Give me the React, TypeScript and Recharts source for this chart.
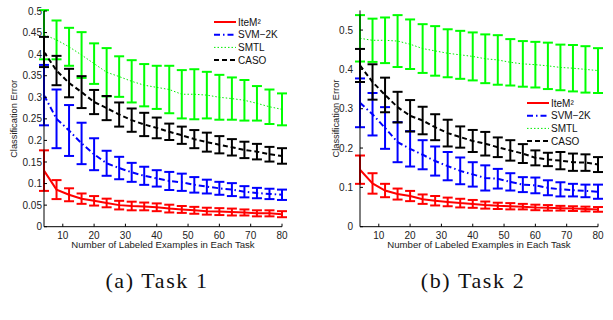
import React from 'react';
import { ComposedChart, Line, XAxis, YAxis, ErrorBar, Legend } from 'recharts';

// labeled examples per task
const xs = [4, 8, 12, 16, 20, 24, 28, 32, 36, 40, 44, 48, 52, 56, 60, 64, 68, 72, 76, 80];
const xTicks = [10, 20, 30, 40, 50, 60, 70, 80];
const yTicksTask1 = [0, 0.05, 0.1, 0.15, 0.2, 0.25, 0.3, 0.35, 0.4, 0.45, 0.5];
const yTicksTask2 = [0, 0.1, 0.2, 0.3, 0.4, 0.5];
const seriesNames = ['IteM²', 'SVM−2K', 'SMTL', 'CASO'];
const captions = ['(a) Task 1', '(b) Task 2'];

// Task 1
const item1 = [0.130, 0.086, 0.074, 0.065, 0.060, 0.055, 0.050, 0.048, 0.047, 0.045, 0.042, 0.040, 0.038, 0.036, 0.035, 0.034, 0.033, 0.031, 0.031, 0.029];
const item1Err = [0.047, 0.022, 0.015, 0.012, 0.011, 0.010, 0.010, 0.010, 0.009, 0.009, 0.009, 0.008, 0.008, 0.008, 0.008, 0.008, 0.007, 0.007, 0.007, 0.007];
const svm1 = [0.305, 0.250, 0.223, 0.193, 0.168, 0.147, 0.136, 0.126, 0.118, 0.112, 0.106, 0.103, 0.097, 0.093, 0.089, 0.086, 0.081, 0.078, 0.076, 0.074];
const svm1Err = [0.070, 0.068, 0.059, 0.048, 0.037, 0.029, 0.026, 0.022, 0.021, 0.019, 0.021, 0.020, 0.018, 0.016, 0.015, 0.015, 0.013, 0.012, 0.012, 0.012];
const smtl1 = [0.445, 0.433, 0.417, 0.398, 0.378, 0.358, 0.348, 0.337, 0.328, 0.323, 0.318, 0.307, 0.307, 0.305, 0.300, 0.297, 0.293, 0.286, 0.278, 0.272];
const smtl1Err = [0.057, 0.045, 0.044, 0.053, 0.047, 0.056, 0.047, 0.049, 0.049, 0.050, 0.055, 0.056, 0.058, 0.054, 0.052, 0.049, 0.047, 0.040, 0.040, 0.037];
const caso1 = [0.405, 0.362, 0.333, 0.312, 0.289, 0.275, 0.260, 0.247, 0.237, 0.229, 0.220, 0.212, 0.203, 0.196, 0.190, 0.184, 0.178, 0.174, 0.168, 0.164];
const caso1Err = [0.035, 0.034, 0.033, 0.037, 0.028, 0.028, 0.028, 0.027, 0.027, 0.024, 0.019, 0.020, 0.021, 0.022, 0.020, 0.019, 0.019, 0.018, 0.017, 0.018];

// Task 2
const item2 = [0.145, 0.110, 0.092, 0.083, 0.078, 0.070, 0.066, 0.063, 0.060, 0.058, 0.055, 0.053, 0.052, 0.051, 0.049, 0.048, 0.047, 0.046, 0.045, 0.044];
const item2Err = [0.036, 0.026, 0.017, 0.014, 0.013, 0.012, 0.012, 0.011, 0.011, 0.010, 0.009, 0.008, 0.008, 0.007, 0.007, 0.007, 0.006, 0.006, 0.006, 0.006];
const svm2 = [0.315, 0.286, 0.251, 0.215, 0.198, 0.183, 0.167, 0.154, 0.142, 0.133, 0.124, 0.122, 0.114, 0.107, 0.105, 0.099, 0.095, 0.093, 0.091, 0.089];
const svm2Err = [0.062, 0.054, 0.053, 0.051, 0.045, 0.037, 0.037, 0.036, 0.034, 0.031, 0.032, 0.025, 0.022, 0.019, 0.020, 0.019, 0.018, 0.016, 0.016, 0.018];
const smtl2 = [0.479, 0.474, 0.474, 0.472, 0.464, 0.453, 0.447, 0.441, 0.437, 0.433, 0.427, 0.424, 0.418, 0.414, 0.412, 0.409, 0.405, 0.403, 0.400, 0.397];
const smtl2Err = [0.059, 0.055, 0.058, 0.066, 0.063, 0.062, 0.063, 0.061, 0.061, 0.061, 0.062, 0.063, 0.059, 0.058, 0.058, 0.059, 0.058, 0.059, 0.059, 0.057];
const caso2 = [0.410, 0.368, 0.335, 0.304, 0.282, 0.270, 0.253, 0.238, 0.228, 0.218, 0.211, 0.202, 0.194, 0.186, 0.175, 0.171, 0.168, 0.164, 0.163, 0.158];
const caso2Err = [0.042, 0.045, 0.044, 0.039, 0.040, 0.035, 0.033, 0.034, 0.027, 0.028, 0.030, 0.025, 0.026, 0.024, 0.019, 0.017, 0.022, 0.022, 0.021, 0.019];

const FONT = '"Liberation Sans", Arial, Helvetica, sans-serif';
const SERIF = '"Liberation Serif", "Times New Roman", serif';

const STYLES = [
  { key: 'item', color: '#ff0000', bar: '#ff0000', width: 2, dash: undefined },
  { key: 'svm', color: '#0000ff', bar: '#0000ff', width: 2, dash: '6 3 1.5 3' },
  { key: 'smtl', color: '#00ee00', bar: '#00ff00', width: 1, dash: '1.5 2' },
  { key: 'caso', color: '#000000', bar: '#000000', width: 2, dash: '5 3' },
];

const buildRows = (item, itemErr, svm, svmErr, smtl, smtlErr, caso, casoErr) =>
  xs.map((x, i) => ({
    x,
    item: item[i], itemErr: itemErr[i],
    svm: svm[i], svmErr: svmErr[i],
    smtl: smtl[i], smtlErr: smtlErr[i],
    caso: caso[i], casoErr: casoErr[i],
  }));

const rows1 = buildRows(item1, item1Err, svm1, svm1Err, smtl1, smtl1Err, caso1, caso1Err);
const rows2 = buildRows(item2, item2Err, svm2, svm2Err, smtl2, smtl2Err, caso2, caso2Err);

const LegendBlock = () => (
  <svg width={80} height={52} style={{ display: 'block', overflow: 'visible' }}>
    {STYLES.map((s, i) => {
      const y = 6 + i * 12.7;
      return (
        <g key={s.key}>
          <line x1={0} x2={22} y1={y} y2={y} stroke={s.color} strokeWidth={s.width} strokeDasharray={s.dash} />
          <text x={24} y={y + 3.6} fontSize={10} fontFamily={FONT} fill="#111">{seriesNames[i]}</text>
        </g>
      );
    })}
  </svg>
);

function TaskChart({ rows, yMax, yTicks, yWidth, marginTop, tickGap, labelX, legendLeft, legendTop }) {
  const tickStyle = { fontSize: 10, fill: '#222', fontFamily: FONT };
  return (
    <ComposedChart width={yWidth + 245} height={262} data={rows}
      margin={{ top: marginTop, right: 7, bottom: 0, left: 0 }}>
      <XAxis dataKey="x" type="number" domain={[4, 80]} ticks={xTicks} allowDataOverflow
        stroke="#000" tickSize={-3} tickMargin={8} height={35.3} tick={tickStyle}
        label={(p) => {
          const vb = p.viewBox;
          return (
            <text x={vb.x + vb.width / 2} y={vb.y + 21.6} textAnchor="middle" fontSize={9.6} fontFamily={FONT} fill="#222">
              Number of Labeled Examples in Each Task
            </text>
          );
        }} />
      <YAxis type="number" domain={[0, yMax]} ticks={yTicks} allowDataOverflow width={yWidth}
        stroke="#000" tickSize={-3} tickMargin={tickGap} tick={tickStyle}
        label={(p) => {
          const vb = p.viewBox;
          const cy = vb.y + vb.height / 2;
          return (
            <text x={labelX} y={cy} transform={`rotate(-90, ${labelX}, ${cy})`} textAnchor="middle" fontSize={9.3} fontFamily={FONT} fill="#222">
              Classification Error
            </text>
          );
        }} />
      <Legend layout="vertical" align="center" verticalAlign="middle" content={() => <LegendBlock />}
        wrapperStyle={{ left: legendLeft, top: legendTop, width: 80 }} />
      {STYLES.map((s) => (
        <Line key={s.key} dataKey={s.key} name={s.key} type="linear" stroke={s.color} strokeWidth={s.width}
          strokeDasharray={s.dash} dot={false} activeDot={false} isAnimationActive={false}>
          <ErrorBar dataKey={s.key + 'Err'} direction="y" width={5} strokeWidth={2} stroke={s.bar} isAnimationActive={false} />
        </Line>
      ))}
    </ComposedChart>
  );
}

export default function App() {
  return (
    <div style={{ position: 'absolute', left: 0, top: 0, width: 613, height: 320, background: '#fff', overflow: 'hidden' }}>
      <div style={{ position: 'absolute', left: 0, top: 0 }}>
        <TaskChart rows={rows1} yMax={0.5} yTicks={yTicksTask1} yWidth={44} marginTop={11}
          tickGap={5} labelX={17} legendLeft={214} legendTop={16} />
      </div>
      <div style={{ position: 'absolute', left: 300, top: 0 }}>
        <TaskChart rows={rows2} yMax={0.55} yTicks={yTicksTask2} yWidth={60} marginTop={10.4}
          tickGap={10} labelX={38.7} legendLeft={227} legendTop={97} />
      </div>
      {captions.map((c, i) => (
        <div key={c} style={{ position: 'absolute', top: 269, left: i === 0 ? 57 : 373, width: 200, textAlign: 'center',
          fontFamily: SERIF, fontSize: 22, lineHeight: '24px', letterSpacing: 1.6, color: '#111' }}>{c}</div>
      ))}
    </div>
  );
}
